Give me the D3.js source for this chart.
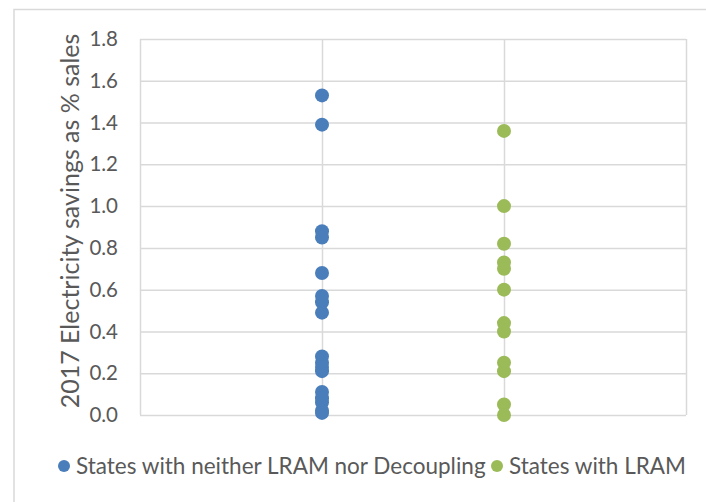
<!DOCTYPE html>
<html><head><meta charset="utf-8">
<script src="https://cdn.jsdelivr.net/npm/d3@7"></script>
<style>body{margin:0;background:#fff;} svg{display:block;} text{font-family:Lato, "Noto Sans", sans-serif;fill:#595959;}</style>
</head><body>
<script>
const categories = ["States with neither LRAM nor Decoupling", "States with LRAM"];
const categoryX = [1, 2];
const neitherValues = [1.53, 1.39, 0.88, 0.85, 0.68, 0.57, 0.54, 0.49, 0.28, 0.25, 0.23, 0.21, 0.11, 0.08, 0.06, 0.02, 0.01];
const lramValues = [1.36, 1.00, 0.82, 0.73, 0.70, 0.60, 0.44, 0.40, 0.25, 0.21, 0.05, 0.00];
const yTicks = [0, 0.2, 0.4, 0.6, 0.8, 1.0, 1.2, 1.4, 1.6, 1.8];
const xTicks = [0, 1, 2, 3];
const colors = ["#4a7ebb", "#9bbb59"];
const yLabel = "2017 Electricity savings as % sales";

(function () {
const W = 706, H = 502;
const svg = d3.select("body").append("svg").attr("width", W).attr("height", H);
svg.append("rect").attr("x", 14).attr("y", 9.5).attr("width", 720).attr("height", 520)
  .attr("fill", "#fff").attr("stroke", "#d9d9d9").attr("stroke-width", 1.5);

const pLeft = 140, pRight = 686, pTop = 39, pBottom = 415;
const x = d3.scaleLinear().domain([0, 3]).range([pLeft, pRight]);
const y = d3.scaleLinear().domain([0, 1.8]).range([pBottom, pTop]);

const yAxis = d3.axisLeft(y).tickValues(yTicks).tickFormat(d3.format(".1f")).tickSize(-(pRight - pLeft)).tickPadding(22);
const gy = svg.append("g").attr("transform", `translate(${pLeft},0)`).call(yAxis);
gy.select(".domain").remove();
gy.selectAll(".tick line").attr("stroke", "#d9d9d9").attr("stroke-width", 1.5);
gy.selectAll(".tick text").attr("font-size", 20.5).style("font-family", "Lato, 'Noto Sans', sans-serif").attr("fill", "#595959").attr("x", -22);

const xAxis = d3.axisBottom(x).tickValues(xTicks).tickSize(-(pBottom - pTop)).tickFormat("");
const gx = svg.append("g").attr("transform", `translate(0,${pBottom})`).call(xAxis);
gx.select(".domain").remove();
gx.selectAll(".tick line").attr("stroke", "#d9d9d9").attr("stroke-width", 1.5);

const series = [neitherValues, lramValues];
series.forEach((vals, i) => {
  svg.append("g").selectAll("circle").data(vals).join("circle")
    .attr("cx", x(categoryX[i])).attr("cy", d => y(d)).attr("r", 7)
    .attr("fill", colors[i]);
});

svg.append("text").attr("transform", `translate(79,221) rotate(-90)`)
  .attr("text-anchor", "middle").attr("font-size", 25).text(yLabel);

const legX = [64, 497];
categories.forEach((c, i) => {
  svg.append("circle").attr("cx", legX[i]).attr("cy", 466).attr("r", 6).attr("fill", colors[i]);
  svg.append("text").attr("x", legX[i] + 12).attr("y", 474).attr("font-size", 22.5).text(c);
});
})();
</script>
</body></html>
